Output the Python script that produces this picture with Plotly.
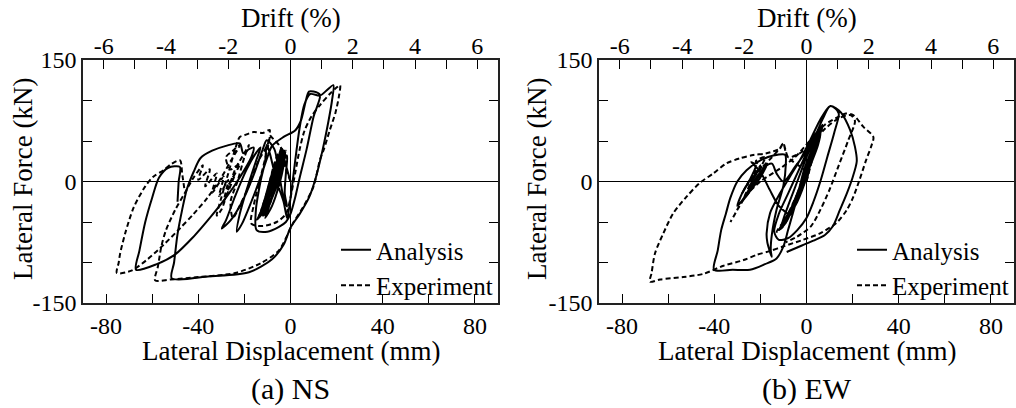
import plotly.graph_objects as go

# ---------------- data (displacement mm, force kN) ----------------
ns_analysis = [
    (0, 0), (-2, 20), (-4, 41), (-5, 32), (-8, 2), (-12, -33), (-14.5, -47), (-12.5, -40), (-8, -10), (-5, 18),
    (-3, 37), (-4.5, 28), (-7, 0), (-11, -30), (-13.5, -44), (-11, -20), (-8, 10), (-5, 32), (-3.5, 40), (-4, 25),
    (-6, 0), (-9, -25), (-12, -42), (-11, -40), (-9, -15), (-6, 15), (-4, 33), (-2.5, 38), (-3, 20), (-5, -5),
    (-8, -30), (-11, -45), (-9, -28), (-5, 2), (-3, 27), (-1.5, 32), (-2, 10), (-2.5, -15), (-1.5, -31), (-3, -20),
    (-5, 10), (-7, 40), (-10.3, 51), (-12, 40), (-16, 8), (-21, -25), (-26, -48), (-29.8, -58), (-28, -48), (-24, -18),
    (-19, 15), (-15, 35), (-13, 42), (-15, 25), (-19, -10), (-22, -40), (-23.3, -62), (-21, -52), (-17, -25), (-13, 5),
    (-10, 30), (-8, 44), (-3, 55), (2, 63), (4.5, 75), (6.5, 98), (8, 111), (10, 111), (12.8, 107), (10, 80),
    (7, 40), (4, 5), (2, -20), (0, -40), (-2, -50), (-5, -56), (-10, -62), (-14.7, -60), (-15, -35), (-13, 0),
    (-11, 25), (-10.3, 45), (-9, 35), (-6, 0), (-3, -25), (-1.5, -45), (-1, -40), (0.5, -10), (2, 25), (4, 67),
    (6, 95), (8.5, 108), (12.8, 106), (15.5, 112), (18.6, 119), (18, 100), (16.5, 75), (14, 40), (11, 5), (8, -20),
    (4, -40), (0, -57), (-3, -78), (-8, -96), (-18, -112), (-35, -117), (-51.5, -119.5), (-50.5, -100), (-49, -65), (-47, -35),
    (-45, -10), (-42, 12), (-39, 29), (-34, 38), (-28, 44), (-22, 47), (-20.5, 35), (-18, 40), (-16, 42), (-17, 30),
    (-22, 5), (-28, -20), (-35, -45), (-42, -68), (-50, -90), (-58, -102), (-67, -109), (-65.5, -85), (-63, -50), (-60, -20),
    (-57, 5), (-53, 17), (-48, 18), (-48.5, 0), (-49, -25),
]
ns_experiment = [
    (0, 0), (-2, 15), (-5, 35), (-7, 22), (-10, -12), (-13, -40), (-11, -32), (-7, 0), (-4, 28), (-3, 36),
    (-6, 15), (-10, -20), (-14, -45), (-12, -38), (-7, -5), (-4, 25), (-2, 38), (-4, 22), (-8, -10), (-12, -40),
    (-10, -35), (-6, 0), (-2, 30), (-5, 45), (-9, 58), (-9, 63.6), (-12, 60), (-16, 61), (-20, 57), (-22, 55),
    (-24, 40), (-27, 10), (-30, -20), (-32, -42), (-30, -35), (-27, -10), (-24, 15), (-20, 35), (-18, 45), (-20, 30),
    (-23, 0), (-26, -25), (-25, -45), (-22, -30), (-18, -5), (-14, 25), (-10, 45), (-9, 55), (-10, 40), (-13, 5),
    (-16, -30), (-17, -52), (-12, -55), (-6, -50), (-2, -40), (0, -20), (2, 10), (4, 40), (6, 62), (9, 80),
    (13, 95), (17, 108), (20, 116), (21.5, 119), (21, 105), (19.5, 85), (17, 63), (14.5, 40), (12.8, 27), (10, -6),
    (5.6, -31), (1, -52), (-5, -85), (-13, -101), (-24, -113), (-40, -118), (-52, -121), (-58.7, -122), (-57.5, -105), (-56, -80),
    (-54, -60), (-50, -35), (-46, -15), (-42, 5), (-38, 20), (-40, 2), (-35, 15), (-37, -6), (-32, 10), (-34, -14),
    (-29, 6), (-31, -18), (-27, 2), (-29, -25), (-24, 10), (-27, -5), (-22, 22), (-26, 15), (-28, 30), (-25, 38),
    (-22, 45), (-26, 25), (-30, 5), (-36, -20), (-42, -40), (-48, -58), (-55, -78), (-62, -96), (-69, -110), (-75.3, -113),
    (-74.5, -100), (-73.9, -89), (-71.7, -64), (-68, -32), (-63, -6), (-59.5, 6), (-55, 14), (-51.5, 22), (-47.9, 26), (-47, 10),
    (-46, -10),
]
ew_analysis = [
    (0, 0), (2, 25), (4, 48), (3, 38), (0, 5), (-4, -25), (-8, -45), (-6, -36), (-2, -5), (2, 28),
    (5, 55), (6, 60), (4, 45), (0, 10), (-5, -25), (-10, -50), (-12, -60), (-9, -50), (-4, -15), (1, 25),
    (4, 52), (3, 40), (-1, 5), (-6, -30), (-11, -55), (-8, -30), (-4, 0), (0, 30), (4, 55), (6, 62),
    (5, 45), (1, 15), (-3, -15), (-7, -40), (-10, -55), (-8, -46), (-3, -10), (2, 30), (6, 65), (7, 70),
    (5, 50), (1, 15), (-3, -15), (-7, -40), (-12, -30), (-16, -10), (-20, 12), (-24, 24), (-22, 20), (-25, 0),
    (-28, -15), (-30, -30), (-27, -20), (-23, 0), (-19, 15), (-17, 22), (-20, 5), (-24, -10), (-28, -25), (-26, -15),
    (-21, 5), (-18, 18), (-15, 22), (-13, 10), (-10, 0), (-5, 18), (0, 38), (4, 58), (7, 77), (10.2, 93),
    (12.5, 90), (14, 84), (12, 60), (9, 30), (6, 0), (3, -25), (0, -45), (-4, -60), (-8, -70), (-12, -72),
    (-14, -62), (-12, -40), (-8, -15), (-4, 10), (0, 35), (4, 60), (3, 45), (-1, 15), (-5, -30), (-8, -60),
    (-10, -80), (-13, -95), (-18, -102), (-24.5, -109), (-32, -109), (-40.1, -109), (-38.5, -85), (-37, -60), (-35, -40), (-33, -20),
    (-30, 0), (-26, 14), (-20, 26), (-14.4, 32), (-9.3, 33), (-9, 20), (-10, -5), (-13, -35), (-15, -65), (-15.5, -85),
    (-15.1, -93), (-17, -75), (-17.3, -64), (-15.8, -39), (-11.5, -14.6), (-7.2, 6), (-2.8, 26.5), (1.6, 51), (5.9, 76), (10.2, 93),
    (13, 90), (15, 85), (18.9, 63.6), (21, 43), (21.8, 25), (20, 5), (17.5, -14.6), (14.5, -35), (11.5, -55), (8, -66),
    (3, -73), (-2, -79), (-8.6, -87),
]
ew_experiment = [
    (0, 0), (2, 22), (4, 45), (2, 30), (-2, -5), (-6, -30), (-9, -45), (-7, -35), (-3, -8), (1, 20),
    (5, 50), (6, 58), (3, 40), (-1, 8), (-5, -25), (-10, -52), (-12, -60), (-9, -48), (-4, -15), (1, 25),
    (5, 55), (7, 68), (5, 52), (1, 20), (-4, -15), (-9, -45), (-13, -62), (-10, -55), (-5, -25), (0, 10),
    (-8, 30), (-10.1, 47), (-11.5, 41), (-15, 30), (-20, 15), (-25, 0), (-28, -15), (-26, -5), (-22, 10), (-25, -8),
    (-20, 20), (-23, 5), (-27, -20), (-24, -10), (-19, 15), (-22, 25), (-18, 30), (-21, 12), (-24, 0), (-20, 18),
    (-23, 10), (-26, -15), (-30, -35), (-33, -50), (-31, -40), (-27, -20), (-20, 0), (-12, 15), (-5, 30), (2, 52),
    (8, 70), (14, 80), (17, 84), (20.3, 82), (24.6, 67.7), (29, 55), (28, 43), (25.8, 26), (23, 2), (20.3, -19),
    (17.5, -35), (13, -51), (5.9, -64), (-1.5, -72), (-10, -80), (-16, -86), (-21.6, -90.5), (-27.3, -97), (-36, -104), (-44.7, -114),
    (-53.4, -118), (-63.5, -121), (-67.9, -123.7), (-67.2, -113), (-65.7, -88.6), (-62.1, -64), (-57.8, -39.3), (-52, -18.7), (-46.2, -1.6), (-40.4, 10),
    (-34.7, 22.4), (-28.9, 28.6), (-23.1, 32.7), (-17.3, 34.8), (-11.5, 40.9), (-10.1, 47), (-8, 30), (0, 40), (8, 65), (14, 78),
    (19, 82), (21, 75), (18, 50), (14, 20), (10, -10), (6, -35), (2, -55), (-4, -68), (-9, -75),
]

series_names = ["Analysis", "Experiment"]
panel_captions = ["(a) NS", "(b) EW"]
x_tick_vals = [-80, -60, -40, -20, 0, 20, 40, 60, 80]
x_tick_text = ["-80", "", "-40", "", "0", "", "40", "", "80"]
y_tick_vals = [-150, -100, -50, 0, 50, 100, 150]
y_tick_text = ["-150", "", "", "0", "", "", "150"]
drift_tick_vals = [-6, -5, -4, -3, -2, -1, 0, 1, 2, 3, 4, 5, 6]
drift_tick_text = ["-6", "", "-4", "", "-2", "", "0", "", "2", "", "4", "", "6"]
mm_per_drift_pct = 13.5
x_range = [-90, 90]
y_range = [-150, 150]

# ---------------- layout helpers ----------------
W, H = 1016, 408
FONT = "Liberation Serif, Times New Roman, Times, DejaVu Serif, serif"
left_dom = [83 / W, 498 / W]
right_dom = [599 / W, 1014 / W]
y_dom = [1 - 303 / H, 1 - 60 / H]


def unzip(pairs):
    return [p[0] for p in pairs], [p[1] for p in pairs]


fig = go.Figure()

panels = [
    (ns_analysis, ns_experiment, "x", "y", "x3", "legend"),
    (ew_analysis, ew_experiment, "x2", "y2", "x4", "legend2"),
]
for ana, exp, xa, ya, xtop, leg in panels:
    ax, ay = unzip(ana)
    ex, ey = unzip(exp)
    fig.add_trace(go.Scatter(x=ax, y=ay, xaxis=xa, yaxis=ya, mode="lines", name=series_names[0],
                             line=dict(color="black", width=2, shape="spline", smoothing=0.8),
                             legend=leg, hoverinfo="skip"))
    fig.add_trace(go.Scatter(x=ex, y=ey, xaxis=xa, yaxis=ya, mode="lines", name=series_names[1],
                             line=dict(color="black", width=2, dash="5px,3px", shape="spline", smoothing=0.8),
                             legend=leg, hoverinfo="skip"))
    # invisible carrier for the drift (top) axis
    fig.add_trace(go.Scatter(x=drift_tick_vals, y=[0] * len(drift_tick_vals), xaxis=xtop, yaxis=ya,
                             mode="markers", marker=dict(opacity=0), showlegend=False, hoverinfo="skip"))

tickfont = dict(family=FONT, size=24, color="black")
common_x = dict(range=x_range, tickvals=x_tick_vals, ticktext=x_tick_text, ticks="inside", ticklen=9,
                tickwidth=1, tickcolor="black", showline=True, linecolor="#222", linewidth=1.5,
                mirror=True, showgrid=False, zeroline=True, zerolinecolor="black", zerolinewidth=1,
                tickfont=tickfont, fixedrange=True, automargin=False)
common_y = dict(range=y_range, tickvals=y_tick_vals, ticktext=y_tick_text, ticks="inside", ticklen=9,
                tickwidth=1, tickcolor="black", showline=True, linecolor="#222", linewidth=1.5,
                mirror="ticks", showgrid=False, zeroline=True, zerolinecolor="black", zerolinewidth=1,
                tickfont=tickfont, fixedrange=True, automargin=False)
drift_range = [x_range[0] / mm_per_drift_pct, x_range[1] / mm_per_drift_pct]
common_top = dict(range=drift_range, tickvals=drift_tick_vals, ticktext=drift_tick_text, ticks="inside",
                  ticklen=9, tickwidth=1, tickcolor="black", side="top", showgrid=False, zeroline=False,
                  showline=False, tickfont=tickfont, fixedrange=True, automargin=False)

fig.update_layout(
    width=W, height=H, margin=dict(l=0, r=0, t=0, b=0, pad=0, autoexpand=False),
    paper_bgcolor="white", plot_bgcolor="white",
    font=dict(family=FONT, color="black"),
    xaxis=dict(domain=left_dom, anchor="y", **common_x),
    yaxis=dict(domain=y_dom, anchor="x", **common_y),
    xaxis2=dict(domain=right_dom, anchor="y2", **common_x),
    yaxis2=dict(domain=y_dom, anchor="x2", **common_y),
    xaxis3=dict(domain=left_dom, anchor="y", overlaying="x", **common_top),
    xaxis4=dict(domain=right_dom, anchor="y2", overlaying="x2", **common_top),
    legend=dict(x=498 / W, xanchor="right", y=1 - 227 / H, yanchor="top", bgcolor="rgba(0,0,0,0)",
                font=dict(family=FONT, size=25, color="black"), tracegroupgap=0),
    legend2=dict(x=1014 / W, xanchor="right", y=1 - 227 / H, yanchor="top", bgcolor="rgba(0,0,0,0)",
                 font=dict(family=FONT, size=25, color="black"), tracegroupgap=0),
    showlegend=True,
)

title_font = dict(family=FONT, size=27, color="black")
cap_font = dict(family=FONT, size=30, color="black")
centers = [(left_dom[0] + left_dom[1]) / 2, (right_dom[0] + right_dom[1]) / 2]
ylab_x = [23 / W, 537 / W]
for i, cx in enumerate(centers):
    fig.add_annotation(text="Drift (%)", x=cx, y=1 - 18 / H, xref="paper", yref="paper",
                       showarrow=False, font=title_font, xanchor="center", yanchor="middle")
    fig.add_annotation(text="Lateral Displacement (mm)", x=cx, y=1 - 351 / H, xref="paper", yref="paper",
                       showarrow=False, font=title_font, xanchor="center", yanchor="middle")
    fig.add_annotation(text=panel_captions[i], x=cx, y=1 - 389 / H, xref="paper", yref="paper",
                       showarrow=False, font=cap_font, xanchor="center", yanchor="middle")
    fig.add_annotation(text="Lateral Force (kN)", x=ylab_x[i], y=1 - 179 / H, xref="paper", yref="paper",
                       showarrow=False, font=title_font, textangle=-90, xanchor="center", yanchor="middle")

fig.write_html("out.html")
